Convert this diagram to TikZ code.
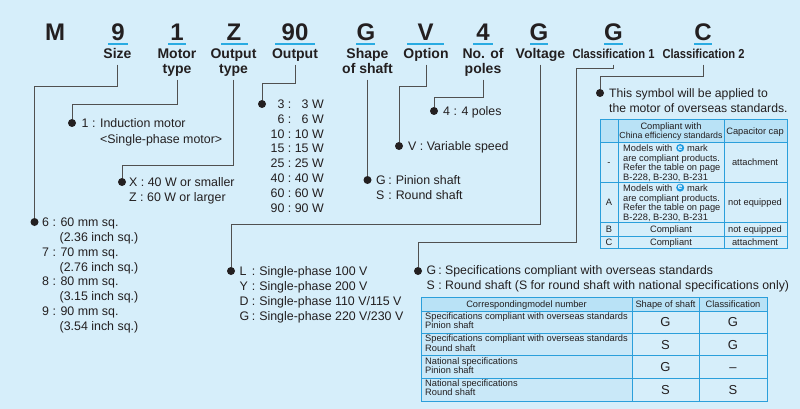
\documentclass[tikz,border=0pt]{standalone}
\usepackage{fontspec}
\setmainfont{Liberation Sans}
\usetikzlibrary{calc}
\definecolor{bg}{HTML}{D6EEFA}
\definecolor{hdr}{HTML}{B9E2F6}
\definecolor{colone}{HTML}{C9E8F8}
\definecolor{tblue}{HTML}{2B9FDB}
\definecolor{ublue}{HTML}{29ABE2}
\definecolor{eblue}{HTML}{1E9BE0}
\definecolor{ink}{HTML}{231F20}
\definecolor{lineg}{HTML}{505050}
\newcommand\mlines[1]{\begin{tabular}[t]{@{}l@{}}#1\end{tabular}}
\newcommand\mlinesc[1]{\begin{tabular}[t]{@{}c@{}}#1\end{tabular}}
\newcommand\colsep{\hspace{2.5pt}:\hspace{4pt}}
\tikzset{
 txt/.style={inner sep=0pt, anchor=base west, text=ink, font=\fontsize{12.4}{14.9}\selectfont},
 ttxt/.style={inner sep=0pt, anchor=base west, text=ink, font=\fontsize{9.3}{9.6}\selectfont},
 tc/.style={ttxt, anchor=base},
 big/.style={inner sep=0pt, anchor=base, text=ink, font=\fontsize{24}{24}\selectfont\bfseries},
 lab/.style={inner sep=1pt, anchor=base, text=ink, font=\fontsize{14}{15}\selectfont\bfseries},
 dot/.style={circle, fill=ink, inner sep=0pt, minimum size=8pt},
 conn/.style={draw=lineg, line width=0.9pt},
 uline/.style={draw=ublue, line width=1.6pt},
 grid/.style={draw=tblue, line width=0.9pt},
 emark/.style={circle, fill=eblue, inner sep=0pt, minimum size=8pt, text=white, font=\fontsize{8}{8}\selectfont\bfseries},
 sym/.style={inner sep=0pt, anchor=base, text=ink, font=\fontsize{13}{13}\selectfont},
}
\begin{document}
\begin{tikzpicture}[x=1pt,y=-1pt]
\fill[bg] (0,0) rectangle (800,409);
\useasboundingbox (0,0) rectangle (800,409);

% big code letters
\node[big] (cM) at (55,41) {M};
\node[big] (c9) at (118,41) {9};
\node[big] (c1) at (177,41) {1};
\node[big] (cZ) at (234,41) {Z};
\node[big] (c90) at (295,41) {90};
\node[big] (cG) at (366,41) {G};
\node[big] (cV) at (425.5,41) {V};
\node[big] (c4) at (483,41) {4};
\node[big] (cGv) at (539,41) {G};
\node[big] (cG1) at (613.5,41) {G};
\node[big] (cC) at (703,41) {C};
% underlines
\draw[uline] (108,44) -- (128,44);
\draw[uline] (168,44) -- (186,44);
\draw[uline] (221,44) -- (248,44);
\draw[uline] (275,44) -- (315,44);
\draw[uline] (356,44) -- (375,44);
\draw[uline] (407,44) -- (444,44);
\draw[uline] (473,44) -- (493,44);
\draw[uline] (530,44) -- (548,44);
\draw[uline] (604,44) -- (623,44);
\draw[uline] (694,44) -- (712,44);

% labels
\node[lab] (lsize) at (117.5,59) {\mlinesc{Size}};
\node[lab] (lmotor) at (177,59) {\mlinesc{Motor\\type}};
\node[lab] (lotype) at (233.5,59) {\mlinesc{Output\\type}};
\node[lab] (lout) at (295,59) {\mlinesc{Output}};
\node[lab] (lshape) at (367.5,59) {\mlinesc{Shape\\of shaft}};
\node[lab] (lopt) at (426,59) {\mlinesc{Option}};
\node[lab] (lpoles) at (483,59) {\mlinesc{No. of\\poles}};
\node[lab] (lvolt) at (540.5,59) {\mlinesc{Voltage}};
\node[lab] (lc1) at (613.5,59) {\mlinesc{\fontsize{13}{15}\selectfont\scalebox{0.86}[1]{Classification 1}}};
\node[lab] (lc2) at (703.5,59) {\mlinesc{\fontsize{13}{15}\selectfont\scalebox{0.86}[1]{Classification 2}}};

% bullets
\node[dot] (bsize) at (34.5,222) {};
\node[dot] (bmotor) at (72,123) {};
\node[dot] (bxz) at (122,182) {};
\node[dot] (bw) at (262,104) {};
\node[dot] (bshape) at (367.5,180) {};
\node[dot] (bopt) at (399,146) {};
\node[dot] (bpoles) at (434,111) {};
\node[dot] (bvolt) at (231,271) {};
\node[dot] (bc1) at (418,271) {};
\node[dot] (bc2) at (600,93) {};

% connectors
\draw[conn] (lsize.south) -- (lsize.south |- 0,86) -| (bsize);
\draw[conn] (lmotor.south) -- (lmotor.south |- 0,104) -| (bmotor);
\draw[conn] (lotype.south) -- (lotype.south |- 0,165) -| (bxz);
\draw[conn] (lout.south) -- (lout.south |- 0,83) -| (bw);
\draw[conn] (lshape.south) -- (bshape);
\draw[conn] (lopt.south) -- (lopt.south |- 0,86) -| (bopt);
\draw[conn] (lpoles.south) -- (lpoles.south |- 0,97) -| (bpoles);
\draw[conn] (lvolt.south) -- (lvolt.south |- 0,224) -| (bvolt);
\draw[conn] (lc1.south) -- (lc1.south |- 0,68) -| (576,242) -| (bc1);
\draw[conn] (lc2.south) -- (lc2.south |- 0,76) -| (bc2);

% option texts
\node[txt] (tsize) at (42,226.3) {\mlines{6 : 60 mm sq.\\\hspace{17.5pt}(2.36 inch sq.)\\7 : 70 mm sq.\\\hspace{17.5pt}(2.76 inch sq.)\\8 : 80 mm sq.\\\hspace{17.5pt}(3.15 inch sq.)\\9 : 90 mm sq.\\\hspace{17.5pt}(3.54 inch sq.)}};
\node[txt, font=\fontsize{12.4}{15.6}\selectfont] (tmotor) at (81.5,127.5) {\mlines{1 : Induction motor\\\hspace{18.5pt}<Single-phase motor>}};
\node[txt, font=\fontsize{12.4}{15}\selectfont] (txz) at (129,186.3) {\mlines{X : 40 W or smaller\\Z : 60 W or larger}};
\node[txt, anchor=base east] (tw) at (324,108.3) {\begin{tabular}[t]{@{}r@{\ :\ }r@{}}3&3 W\\6&6 W\\10&10 W\\15&15 W\\25&25 W\\40&40 W\\60&60 W\\90&90 W\end{tabular}};
\node[txt, font=\fontsize{12.4}{15}\selectfont] (tshape) at (376,184.3) {\begin{tabular}[t]{@{}l@{\colsep}l@{}}G&Pinion shaft\\S&Round shaft\end{tabular}};
\node[txt] (topt) at (408,150.3) {V : Variable speed};
\node[txt] (tpoles) at (443,115.3) {4 : 4 poles};
\node[txt, font=\fontsize{12.4}{15}\selectfont] (tvolt) at (239.5,275.3) {\begin{tabular}[t]{@{}l@{\colsep}l@{}}L&Single-phase 100 V\\Y&Single-phase 200 V\\D&Single-phase 110 V/115 V\\G&Single-phase 220 V/230 V\end{tabular}};
\node[txt, font=\fontsize{12.3}{15}\selectfont] (tc1) at (426.5,274.5) {\begin{tabular}[t]{@{}l@{\hspace{2pt}:\hspace{3.5pt}}l@{}}G&Specifications compliant with overseas standards\\S&Round shaft (S for round shaft with national specifications only)\end{tabular}};
\node[txt, font=\fontsize{12.2}{15}\selectfont] (tc2) at (609,97.3) {\mlines{This symbol will be applied to\\the motor of overseas standards.}};

% ---- table 1 (classification 2)
\fill[hdr] (600,119) rectangle (787,142);
\draw[grid] (600,119) rectangle (787,248);
\draw[grid] (618,119) -- (618,248);
\draw[grid] (724,119) -- (724,248);
\draw[grid] (600,142) -- (787,142);
\draw[grid] (600,182) -- (787,182);
\draw[grid] (600,222) -- (787,222);
\draw[grid] (600,236) -- (787,236);
\node[tc] (h1a) at (671,129.3) {\mlinesc{Compliant with\\\fontsize{8.8}{9.4}\selectfont China efficiency standards}};
\node[tc] (h1b) at (755,134.3) {Capacitor cap};
% row -
\node[tc] (r1a) at (609,165.3) {-};
\node[ttxt] (r1m) at (623,151.3) {Models with};
\node[emark, anchor=west] (r1e) at ($(r1m.east)+(3.5,0)$) {e};
\node[ttxt] (r1k) at ($(r1e.east |- r1m.base)+(2.5,0)$) {mark};
\node[ttxt] (r1t) at (623,161) {\mlines{are compliant products.\\Refer the table on page\\B-228, B-230, B-231}};
\node[tc] (r1c) at (755,165.3) {attachment};
% row A
\node[tc] (r2a) at (609,205.3) {A};
\node[ttxt] (r2m) at (623,191) {Models with};
\node[emark, anchor=west] (r2e) at ($(r2m.east)+(3.5,0)$) {e};
\node[ttxt] (r2k) at ($(r2e.east |- r2m.base)+(2.5,0)$) {mark};
\node[ttxt] (r2t) at (623,201.3) {\mlines{are compliant products.\\Refer the table on page\\B-228, B-230, B-231}};
\node[tc] (r2c) at (755,205.3) {not equipped};
% row B
\node[tc] (r3a) at (609,232.3) {B};
\node[tc] (r3b) at (671,232.3) {Compliant};
\node[tc] (r3c) at (755,232.3) {not equipped};
% row C
\node[tc] (r4a) at (609,245.5) {C};
\node[tc] (r4b) at (671,245.5) {Compliant};
\node[tc] (r4c) at (755,245.5) {attachment};

% ---- table 2 (classification 1)
\fill[hdr] (421,297) rectangle (767,311);
\fill[colone] (421,311) rectangle (632,401);
\draw[grid] (421,297) rectangle (767,401);
\draw[grid] (632,297) -- (632,401);
\draw[grid] (699,297) -- (699,401);
\draw[grid] (421,311) -- (767,311);
\draw[grid] (421,333) -- (767,333);
\draw[grid] (421,355) -- (767,355);
\draw[grid] (421,378) -- (767,378);
\node[tc] (h2a) at (526.5,307.5) {Correspondingmodel number};
\node[tc] (h2b) at (665.5,307.5) {Shape of shaft};
\node[tc] (h2c) at (733,307.5) {Classification};
\node[ttxt] (s1) at (425,319.3) {\mlines{Specifications compliant with overseas standards\\Pinion shaft}};
\node[ttxt] (s2) at (425,341.6) {\mlines{Specifications compliant with overseas standards\\Round shaft}};
\node[ttxt] (s3) at (425,364.3) {\mlines{National specifications\\Pinion shaft}};
\node[ttxt] (s4) at (425,386.3) {\mlines{National specifications\\Round shaft}};
\node[sym] (g1) at (665.5,326.4) {G};
\node[sym] (k1) at (733,326.4) {G};
\node[sym] (g2) at (665.5,349) {S};
\node[sym] (k2) at (733,349) {G};
\node[sym] (g3) at (665.5,371.4) {G};
\node[sym] (k3) at (733,371.4) {–};
\node[sym] (g4) at (665.5,394) {S};
\node[sym] (k4) at (733,394) {S};
\end{tikzpicture}
\end{document}
